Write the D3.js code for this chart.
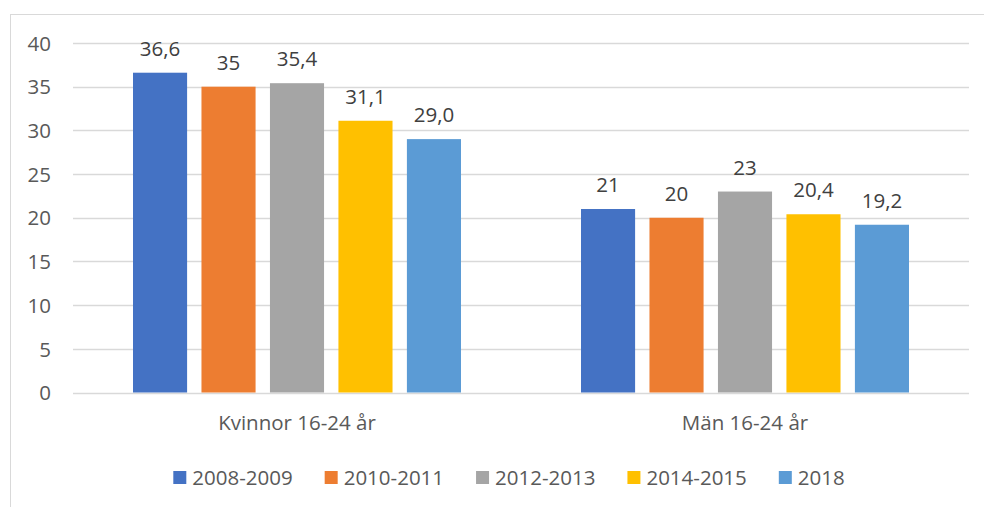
<!DOCTYPE html>
<html>
<head>
<meta charset="utf-8">
<script src="https://cdn.jsdelivr.net/npm/d3@7"></script>
<style>
  body { margin: 0; background: #fff; }
  text { font-family: "Open Sans", "Liberation Sans", sans-serif; }
</style>
</head>
<body>
<svg id="chart" width="984" height="507"></svg>
<script>
// kategorier och serier
const categories = ['Kvinnor 16-24 år', 'Män 16-24 år'];
const seriesNames = ['2008-2009', '2010-2011', '2012-2013', '2014-2015', '2018'];
const seriesColors = ['#4472C4', '#ED7D31', '#A5A5A5', '#FFC000', '#5B9BD5'];
const kvinnor = [36.6, 35, 35.4, 31.1, 29.0];
const man = [21, 20, 23, 20.4, 19.2];
const kvinnorLabels = ['36,6', '35', '35,4', '31,1', '29,0'];
const manLabels = ['21', '20', '23', '20,4', '19,2'];
const yTicks = [0, 5, 10, 15, 20, 25, 30, 35, 40];

const rows = [
    { cat: categories[0], values: kvinnor, labels: kvinnorLabels },
    { cat: categories[1], values: man, labels: manLabels }
];

const fontSize = '20.5px';
const svg = d3.select('#chart');

// ram runt diagrammet
svg.append('rect')
    .attr('x', 10.5).attr('y', 14.5)
    .attr('width', 1000).attr('height', 600)
    .attr('fill', 'none')
    .attr('stroke', '#d9d9d9');

const plotLeft = 73, plotRight = 969, plotTop = 43, plotBottom = 392.5;

const x0 = d3.scaleBand().domain(categories).range([plotLeft, plotRight]).paddingInner(0).paddingOuter(0);
const x1 = d3.scaleBand().domain(seriesNames).range([60, x0.bandwidth() - 60]).paddingInner(0.21);
const y = d3.scaleLinear().domain([0, 40]).range([plotBottom, plotTop]);

// rutnät
const grid = svg.append('g');
grid.selectAll('line')
    .data(yTicks)
    .enter()
    .append('line')
    .attr('x1', plotLeft).attr('x2', plotRight)
    .attr('y1', d => Math.round(y(d)) + 0.5)
    .attr('y2', d => Math.round(y(d)) + 0.5)
    .attr('stroke', '#d9d9d9')
    .attr('stroke-width', 1.5);

// y-axel
const yAxis = svg.append('g')
    .attr('transform', `translate(${plotLeft - 22},0)`)
    .call(d3.axisLeft(y).tickValues(yTicks).tickSize(0).tickPadding(0));
yAxis.select('.domain').remove();
yAxis.selectAll('text')
    .attr('fill', '#595959')
    .style('font-size', fontSize)
    .style('font-family', '"Open Sans", sans-serif')
    .attr('dy', '0.35em');

// staplar
const groups = svg.selectAll('g.cat')
    .data(rows)
    .enter()
    .append('g')
    .classed('cat', true)
    .attr('transform', d => `translate(${x0(d.cat)},0)`);

const bars = groups.selectAll('g.bar')
    .data(d => d.values.map((v, i) => ({ v, name: seriesNames[i], color: seriesColors[i], label: d.labels[i] })))
    .enter()
    .append('g')
    .classed('bar', true);

bars.append('rect')
    .attr('x', d => x1(d.name))
    .attr('width', x1.bandwidth())
    .attr('y', d => y(d.v))
    .attr('height', d => y(0) - y(d.v))
    .attr('fill', d => d.color);

bars.append('text')
    .text(d => d.label)
    .attr('x', d => x1(d.name) + x1.bandwidth() / 2)
    .attr('y', d => y(d.v) - 17)
    .attr('text-anchor', 'middle')
    .attr('fill', '#404040')
    .style('font-size', fontSize);

// kategori-etiketter
const xAxis = svg.append('g')
    .attr('transform', `translate(0,${plotBottom})`)
    .call(d3.axisBottom(x0).tickSize(0).tickPadding(0));
xAxis.select('.domain').remove();
xAxis.selectAll('text')
    .attr('fill', '#595959')
    .attr('dy', 0)
    .attr('y', 37)
    .style('font-size', fontSize)
    .style('font-family', '"Open Sans", sans-serif');

// legend
const legend = svg.append('g');
const items = legend.selectAll('g.item')
    .data(seriesNames)
    .enter()
    .append('g')
    .classed('item', true);

items.append('rect')
    .attr('width', 13).attr('height', 13)
    .attr('y', 471)
    .attr('fill', (d, i) => seriesColors[i]);

items.append('text')
    .text(d => d)
    .attr('x', 19)
    .attr('y', 485)
    .attr('fill', '#595959')
    .style('font-size', fontSize);

const gap = 32;
let pos = 0;
const offsets = [];
items.each(function () {
    const w = 19 + this.querySelector('text').getComputedTextLength();
    offsets.push(pos);
    pos += w + gap;
});
const total = pos - gap;
const startX = 509 - total / 2;
items.attr('transform', (d, i) => `translate(${startX + offsets[i]},0)`);
</script>
</body>
</html>
